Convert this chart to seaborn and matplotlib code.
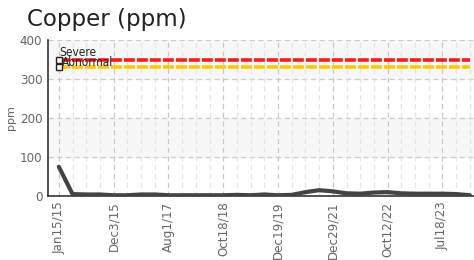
"""Copper (ppm) trend chart with severity thresholds

"""

import numpy as np
import pandas as pd
import seaborn as sns
import matplotlib
matplotlib.use("Agg")
import matplotlib.pyplot as plt

# sample dates, one label every fourth sample
tick_labels = ["Jan15/15", "Dec3/15", "Aug1/17", "Oct18/18",
               "Dec19/19", "Dec29/21", "Oct12/22", "Jul18/23"]
copper = [75, 5, 4, 4, 2, 2, 4, 4, 2, 2, 2, 2, 2, 3, 2, 4,
          2, 3, 10, 15, 12, 7, 6, 9, 10, 7, 6, 6, 6, 5, 2]
severe_level = 350
abnormal_level = 330

n = len(copper)
df = pd.DataFrame({"idx": np.arange(n), "copper": copper})
limits = pd.DataFrame({
    "idx": np.tile(np.arange(n), 2),
    "value": [severe_level] * n + [abnormal_level] * n,
    "limit": ["Severe"] * n + ["Abnormal"] * n,
})

sns.set_style("white")
plt.rcParams["font.family"] = ["DejaVu Sans"]

fig = plt.figure(figsize=(4.74, 2.6), dpi=100)
ax = fig.add_axes([0.101, 0.246, 0.899, 0.6])

# alternating bands
for lo in (100, 300):
    ax.axhspan(lo, lo + 100, color="#f7f7f7", zorder=0)

# grid
for y in (100, 200, 300, 400):
    ax.axhline(y, color="#cccccc", lw=0.9, ls=(0, (4, 3)), zorder=1)
for i in range(n):
    c = "#c8c8c8" if i % 4 == 0 else "#e4e4e4"
    ax.axvline(i, color=c, lw=0.9, ls=(0, (4, 3)), zorder=1)

sns.lineplot(data=limits, x="idx", y="value", hue="limit",
             palette={"Severe": "#ff1a1a", "Abnormal": "#ffc800"},
             lw=2.6, ax=ax, legend=False, zorder=2)
for line in ax.lines[-2:]:
    line.set_dashes((3, 0.6))

sns.lineplot(data=df, x="idx", y="copper", color="#444444", lw=3,
             ax=ax, zorder=3)

# threshold markers and labels
ax.plot([0, 0], [severe_level, abnormal_level], ls="none", marker="s",
        ms=4.5, mfc="white", mec="#222222", mew=1, zorder=4)
ax.text(0.0, severe_level + 9, "Severe", fontsize=8.5, color="#222222",
        fontstretch="condensed", zorder=5)
ax.text(0.25, abnormal_level + 4, "Abnormal", fontsize=8.5, color="#222222",
        fontstretch="condensed", zorder=5)

ax.set_xlim(-0.8, 30.3)
ax.set_ylim(0, 400)
ax.set_yticks([0, 100, 200, 300, 400])
ax.set_xticks(range(0, n, 4)[:len(tick_labels)])
ax.set_xticklabels(tick_labels, rotation=90)
ax.tick_params(axis="both", labelsize=9.5, labelcolor="#666666",
               color="#333333", length=4, width=1, direction="inout", pad=2)
for lab in ax.get_xticklabels() + ax.get_yticklabels():
    lab.set_fontstretch("condensed")
ax.set_xlabel("")
ax.set_ylabel("ppm", fontsize=8, color="#666666", labelpad=3)

for side in ("top", "right"):
    ax.spines[side].set_visible(False)
for side in ("left", "bottom"):
    ax.spines[side].set_color("#333333")
    ax.spines[side].set_linewidth(1.2)

fig.text(0.057, 0.9, "Copper (ppm)", fontsize=16.5, color="#222222")

fig.savefig("out.png", dpi=100)
